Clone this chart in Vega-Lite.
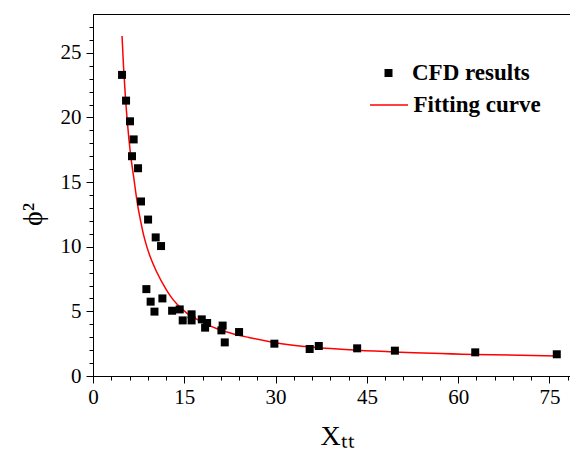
{
  "$schema": "https://vega.github.io/schema/vega-lite/v6.json",
  "autosize": "none",
  "width": 479,
  "height": 362,
  "padding": {"left": 93, "top": 14, "right": 0, "bottom": 80},
  "background": "white",
  "config": {
    "view": {"stroke": "black", "strokeWidth": 1},
    "font": "Liberation Serif",
    "style": {"guide-label": {"font": "Liberation Serif"}, "guide-title": {"font": "Liberation Serif"}},
    "axis": {"grid": false, "domainColor": "black", "tickColor": "black", "labelColor": "black", "titleColor": "black", "labelFont": "Liberation Serif", "titleFont": "Liberation Serif", "titleFontWeight": "normal", "labelFlush": false}
  },
  "datasets": {
    "cfd": [
      {"x": 4.77, "y": 23.29}, {"x": 5.43, "y": 21.3}, {"x": 6.08, "y": 19.7}, {"x": 6.68, "y": 18.3},
      {"x": 6.41, "y": 17.0}, {"x": 7.4, "y": 16.07}, {"x": 7.89, "y": 13.5}, {"x": 9.05, "y": 12.1},
      {"x": 10.3, "y": 10.72}, {"x": 11.18, "y": 10.05}, {"x": 8.77, "y": 6.72}, {"x": 9.47, "y": 5.75},
      {"x": 10.1, "y": 4.98}, {"x": 11.4, "y": 6.0}, {"x": 13.0, "y": 5.05}, {"x": 14.25, "y": 5.15},
      {"x": 14.74, "y": 4.3}, {"x": 16.2, "y": 4.77}, {"x": 16.2, "y": 4.3}, {"x": 17.87, "y": 4.38},
      {"x": 18.75, "y": 4.1}, {"x": 18.42, "y": 3.74}, {"x": 21.3, "y": 3.9}, {"x": 21.1, "y": 3.53},
      {"x": 21.65, "y": 2.6}, {"x": 24.0, "y": 3.4}, {"x": 29.8, "y": 2.5}, {"x": 35.6, "y": 2.09},
      {"x": 37.1, "y": 2.32}, {"x": 43.4, "y": 2.14}, {"x": 49.6, "y": 1.96}, {"x": 62.8, "y": 1.83},
      {"x": 76.2, "y": 1.68}
    ],
    "fit": [
      {"x": 4.77, "y": 26.3}, {"x": 5.03, "y": 23.8}, {"x": 5.31, "y": 21.7}, {"x": 5.69, "y": 19.4},
      {"x": 6.13, "y": 17.3}, {"x": 6.68, "y": 15.4}, {"x": 7.34, "y": 13.2}, {"x": 7.78, "y": 12.1},
      {"x": 8.32, "y": 10.9}, {"x": 8.88, "y": 9.95}, {"x": 9.42, "y": 9.2}, {"x": 10.41, "y": 8.1},
      {"x": 11.89, "y": 6.8}, {"x": 12.7, "y": 6.2}, {"x": 13.82, "y": 5.55}, {"x": 15.46, "y": 4.85},
      {"x": 17.6, "y": 4.25}, {"x": 20.39, "y": 3.65}, {"x": 23.1, "y": 3.25}, {"x": 25.6, "y": 2.98},
      {"x": 29.7, "y": 2.6}, {"x": 36.3, "y": 2.22}, {"x": 43.4, "y": 1.99}, {"x": 50.5, "y": 1.84},
      {"x": 62.6, "y": 1.67}, {"x": 76.3, "y": 1.55}
    ]
  },
  "resolve": {"axis": {"x": "independent", "y": "independent"}},
  "layer": [
    {
      "data": {"name": "fit"},
      "transform": [{"calculate": "'Fitting curve'", "as": "series"}],
      "mark": {"type": "line", "interpolate": "monotone", "strokeWidth": 1.5, "clip": true},
      "encoding": {
        "x": {"field": "x", "type": "quantitative", "scale": {"domain": [0, 78.7], "nice": false, "zero": false},
          "axis": {"orient": "bottom", "values": [3, 6, 9, 12, 18, 21, 24, 27, 33, 36, 39, 42, 48, 51, 54, 57, 63, 66, 69, 72, 78], "labels": false, "domain": false, "tickSize": 4, "title": null}},
        "y": {"field": "y", "type": "quantitative", "scale": {"domain": [0, 28], "nice": false, "zero": false},
          "axis": {"orient": "left", "values": [1, 2, 3, 4, 6, 7, 8, 9, 11, 12, 13, 14, 16, 17, 18, 19, 21, 22, 23, 24, 26, 27], "labels": false, "domain": false, "tickSize": 4, "title": null}},
        "color": {"field": "series", "type": "nominal",
          "scale": {"domain": ["Fitting curve"], "range": ["red"]},
          "legend": {
            "orient": "none", "legendX": 276, "legendY": 71, "padding": 0, "title": null,
            "labelFont": "Liberation Serif", "labelFontWeight": "bold", "labelFontSize": 23, "labelColor": "black",
            "labelOffset": 4.5, "symbolType": "stroke", "symbolSize": 1444, "symbolStrokeWidth": 1.5, "symbolStrokeColor": "red"
          }}
      }
    },
    {
      "data": {"name": "cfd"},
      "transform": [{"calculate": "'CFD results'", "as": "series"}],
      "mark": {"type": "point", "shape": "square", "size": 64, "opacity": 1, "filled": true, "color": "black", "strokeWidth": 0},
      "encoding": {
        "x": {"field": "x", "type": "quantitative", "scale": {"domain": [0, 78.7], "nice": false, "zero": false},
          "axis": {"orient": "bottom", "values": [0, 15, 30, 45, 60, 75], "tickSize": 7, "labelFont": "Liberation Serif", "labelFontSize": 21, "labelPadding": 3, "labelFlush": false,
            "title": "Xₜₜ", "titleFont": "Liberation Serif", "titleFontSize": 28, "titleAlign": "left", "titleBaseline": "alphabetic", "titleX": 227, "titleY": 68}},
        "y": {"field": "y", "type": "quantitative", "scale": {"domain": [0, 28], "nice": false, "zero": false},
          "axis": {"orient": "left", "values": [0, 5, 10, 15, 20, 25], "tickSize": 7, "labelFont": "Liberation Serif", "labelFontSize": 21, "labelPadding": 5, "labelFlush": false,
            "title": "ϕ²", "titleFont": "Liberation Serif", "titleFontSize": 28, "titleAngle": -90, "titleAlign": "center", "titleBaseline": "alphabetic", "titleX": -52, "titleY": 200}},
        "shape": {"field": "series", "type": "nominal",
          "scale": {"domain": ["CFD results"], "range": ["square"]},
          "legend": {
            "orient": "none", "legendX": 284, "legendY": 47.5, "padding": 0, "title": null,
            "labelFont": "Liberation Serif", "labelFontWeight": "bold", "labelFontSize": 23, "labelColor": "black",
            "labelOffset": 12, "symbolSize": 64, "symbolFillColor": "black", "symbolStrokeColor": "black", "symbolStrokeWidth": 0
          }}
      }
    }
  ]
}
